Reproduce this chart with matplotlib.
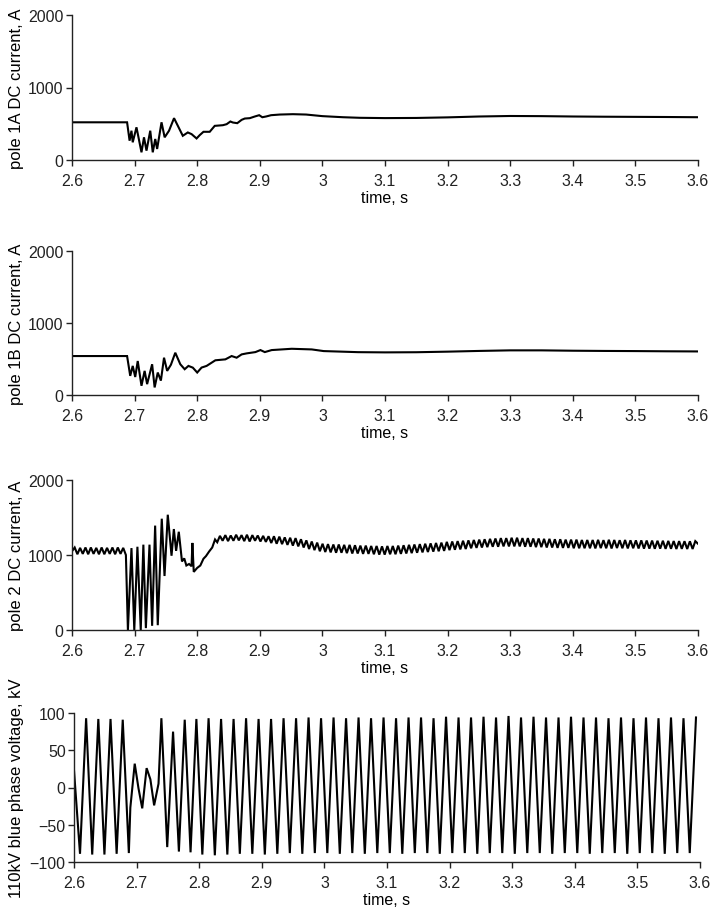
import numpy as np
import matplotlib
matplotlib.use("Agg")
import matplotlib.pyplot as plt
from matplotlib.ticker import FixedLocator, FuncFormatter

plt.rcParams['font.family'] = ['Liberation Sans', 'DejaVu Sans']
plt.rcParams['font.size'] = 11

# ---------------- data ----------------
x_ticks = [2.6, 2.7, 2.8, 2.9, 3.0, 3.1, 3.2, 3.3, 3.4, 3.5, 3.6]
current_ticks = [0, 1000, 2000]
volt_ticks = [-100, -50, 0, 50, 100]

ylabels = ["pole 1A DC current, A", "pole 1B DC current, A",
           "pole 2 DC current, A", "110kV blue phase voltage, kV"]
xlabel = "time, s"

# pole 1A DC current
p1a_t = [2.600, 2.688, 2.692, 2.695, 2.697, 2.703, 2.711, 2.715, 2.719, 2.725,
         2.729, 2.733, 2.736, 2.743, 2.748, 2.755, 2.763, 2.777, 2.785, 2.791,
         2.799, 2.804, 2.810, 2.820, 2.828, 2.841, 2.847, 2.853, 2.857, 2.864,
         2.871, 2.876, 2.884, 2.892, 2.899, 2.904, 2.910, 2.918, 2.932, 2.953,
         2.974, 3.000, 3.033, 3.060, 3.100, 3.150, 3.200, 3.250, 3.300, 3.350,
         3.400, 3.450, 3.500, 3.550, 3.600]
p1a_v = [520, 520, 266, 404, 244, 451, 106, 313, 129, 404,
         106, 290, 152, 520, 313, 404, 577, 334, 380, 357,
         297, 343, 389, 389, 471, 480, 494, 531, 517, 508,
         554, 572, 577, 600, 618, 590, 600, 618, 627, 632,
         627, 605, 590, 582, 578, 580, 588, 600, 607, 605,
         600, 597, 595, 593, 590]

# pole 1B DC current
p1b_t = [2.600, 2.688, 2.693, 2.697, 2.701, 2.705, 2.711, 2.716, 2.720, 2.728,
         2.732, 2.737, 2.742, 2.747, 2.752, 2.758, 2.765, 2.773, 2.780, 2.786,
         2.793, 2.800, 2.807, 2.815, 2.829, 2.845, 2.855, 2.863, 2.871, 2.879,
         2.893, 2.901, 2.908, 2.919, 2.951, 2.983, 3.002, 3.057, 3.100, 3.150,
         3.200, 3.250, 3.300, 3.350, 3.400, 3.450, 3.500, 3.550, 3.600]
p1b_v = [541, 541, 266, 404, 250, 472, 128, 335, 151, 427,
         105, 312, 200, 518, 335, 420, 587, 427, 358, 404,
         380, 312, 381, 404, 482, 495, 541, 518, 564, 578,
         596, 624, 596, 624, 642, 633, 610, 595, 592, 594,
         602, 612, 620, 620, 615, 612, 610, 607, 605]

# pole 2 DC current: pre-fault ripple, fault transient, post-fault ripple
p2_pre = [1050, 1100, 1010, 1095, 1015, 1100, 1010, 1100, 1015, 1095,
          1010, 1100, 1010, 1095, 1015, 1100, 1010, 1100, 1015, 1095, 1000]
p2_fault_t = [2.6893, 2.6950, 2.6995, 2.7045, 2.7098, 2.7140, 2.7180, 2.7238, 2.7280, 2.7328,
              2.7370, 2.7434, 2.7478, 2.7530, 2.7590, 2.7627, 2.7663, 2.7706, 2.7757, 2.7793,
              2.7827, 2.7870, 2.7910, 2.7923, 2.7945, 2.8000, 2.8050, 2.8100, 2.8140, 2.8190,
              2.8240, 2.8285]
p2_fault_v = [0, 1092, 0, 1110, 0, 1138, 25, 1138, 56, 1392,
              64, 1484, 720, 1537, 990, 1346, 1055, 1310, 914, 955,
              860, 880, 850, 1161, 775, 828, 860, 950, 985, 1046,
              1100, 1207]
p2_post = [1170, 1255, 1190, 1265, 1185, 1260, 1190, 1270, 1195, 1265,
           1185, 1270, 1180, 1265, 1190, 1260, 1180, 1255, 1175, 1250,
           1160, 1250, 1150, 1245, 1145, 1235, 1135, 1230, 1125, 1225,
           1115, 1210, 1100, 1195, 1080, 1180, 1065, 1165, 1050, 1150,
           1040, 1145, 1035, 1140, 1030, 1140, 1030, 1135, 1025, 1135,
           1020, 1130, 1020, 1125, 1015, 1125, 1015, 1120, 1010, 1120,
           1005, 1115, 1005, 1120, 1010, 1120, 1010, 1125, 1015, 1130,
           1020, 1135, 1025, 1140, 1030, 1145, 1035, 1150, 1040, 1155,
           1045, 1160, 1050, 1165, 1055, 1175, 1065, 1180, 1070, 1185,
           1075, 1190, 1080, 1195, 1090, 1200, 1095, 1205, 1100, 1210,
           1105, 1215, 1110, 1220, 1110, 1225, 1115, 1225, 1115, 1230,
           1115, 1230, 1115, 1225, 1110, 1225, 1110, 1220, 1105, 1220,
           1105, 1215, 1100, 1215, 1100, 1210, 1095, 1210, 1095, 1205,
           1095, 1205, 1090, 1205, 1090, 1200, 1090, 1200, 1090, 1200,
           1088, 1202, 1092, 1198, 1090, 1203, 1087, 1200, 1093, 1197,
           1090, 1200, 1088, 1196, 1090, 1195, 1087, 1195, 1085, 1193,
           1085, 1192, 1083, 1190, 1085, 1190, 1082, 1188, 1083, 1186,
           1080, 1185, 1082, 1184, 1080, 1183, 1080, 1185, 1150]

# 110kV blue phase voltage
v_pre = [23, -89, 93, -90, 92, -90, 92, -89, 91, -88]
v_fault_t = [2.690, 2.697, 2.703, 2.709, 2.716, 2.722, 2.728, 2.735]
v_fault_v = [-27, 32, -1, -28, 26, 11, -24, 5]
v_post = [93, -80, 75, -86, 91, -87, 92, -90, 93, -91,
          92, -90, 92, -89, 93, -89, 92, -90, 92, -89,
          93, -88, 93, -89, 94, -88, 93, -88, 94, -89,
          93, -88, 94, -89, 93, -88, 94, -88, 93, -89,
          94, -88, 94, -88, 93, -89, 95, -88, 94, -88,
          94, -89, 95, -88, 94, -88, 96, -89, 94, -88,
          95, -88, 94, -89, 94, -88, 95, -88, 94, -89,
          94, -88, 93, -88, 94, -89, 93, -88, 94, -88,
          93, -89, 94, -88, 93, -88, 94]

# sample times for the ripple / waveform segments
p2_t = np.concatenate([np.linspace(2.600, 2.6861, len(p2_pre)),
                       p2_fault_t,
                       np.linspace(2.832, 3.600, len(p2_post))])
p2_v = np.concatenate([p2_pre, p2_fault_v, p2_post])

v_t = np.concatenate([[2.600], np.linspace(2.6096, 2.6876, len(v_pre) - 1),
                      v_fault_t,
                      np.linspace(2.7396, 2.7955, 7),
                      np.linspace(2.805, 3.5936, len(v_post) - 7)])
v_v = np.concatenate([v_pre, v_fault_v, v_post])

# ---------------- figure ----------------
W, H = 714, 912
fig = plt.figure(figsize=(W / 100, H / 100), dpi=100)
fig.patch.set_facecolor('white')

# (left px, right px, top px, bottom px)
boxes = [(72, 698, 16, 161), (72, 698, 252, 396), (72, 698, 481, 631), (74, 700, 714, 863)]
series = [(p1a_t, p1a_v), (p1b_t, p1b_v), (p2_t, p2_v), (v_t, v_v)]

fmt = FuncFormatter(lambda v, p: ('%g' % round(v, 2)).replace('-', '\u2212'))

for i, ((l, r, t, b), (xs, ys)) in enumerate(zip(boxes, series)):
    ax = fig.add_axes([l / W, 1 - b / H, (r - l) / W, (b - t) / H])
    ax.plot(xs, ys, color='black', lw=1.5, solid_joinstyle='miter')
    ax.set_xlim(2.6, 3.6)
    if i < 3:
        ax.set_ylim(0, 2000)
        ax.yaxis.set_major_locator(FixedLocator(current_ticks))
    else:
        ax.set_ylim(-100, 100)
        ax.yaxis.set_major_locator(FixedLocator(volt_ticks))
    ax.xaxis.set_major_locator(FixedLocator(x_ticks))
    ax.xaxis.set_major_formatter(fmt)
    ax.yaxis.set_major_formatter(fmt)
    for s in ('top', 'right'):
        ax.spines[s].set_visible(False)
    for s in ('left', 'bottom'):
        ax.spines[s].set_linewidth(1.0)
        ax.spines[s].set_color('#222222')
    ax.tick_params(direction='out', length=4, width=1.0, colors='#222222',
                   labelsize=11.5)
    ax.tick_params(axis='y', pad=2)
    ax.tick_params(axis='x', pad=5.5)
    ax.set_xlabel(xlabel, fontsize=11.5)
    hpx = b - t
    ax.xaxis.set_label_coords(0.5, -30 / hpx)
    ax.set_ylabel(ylabels[i], fontsize=12)
    ax.yaxis.set_label_coords((17 - l) / (r - l), 0.5)
    ax.yaxis.label.set_va('center')
    ax.patch.set_alpha(0)

fig.savefig("out.png", dpi=100, facecolor='white')
